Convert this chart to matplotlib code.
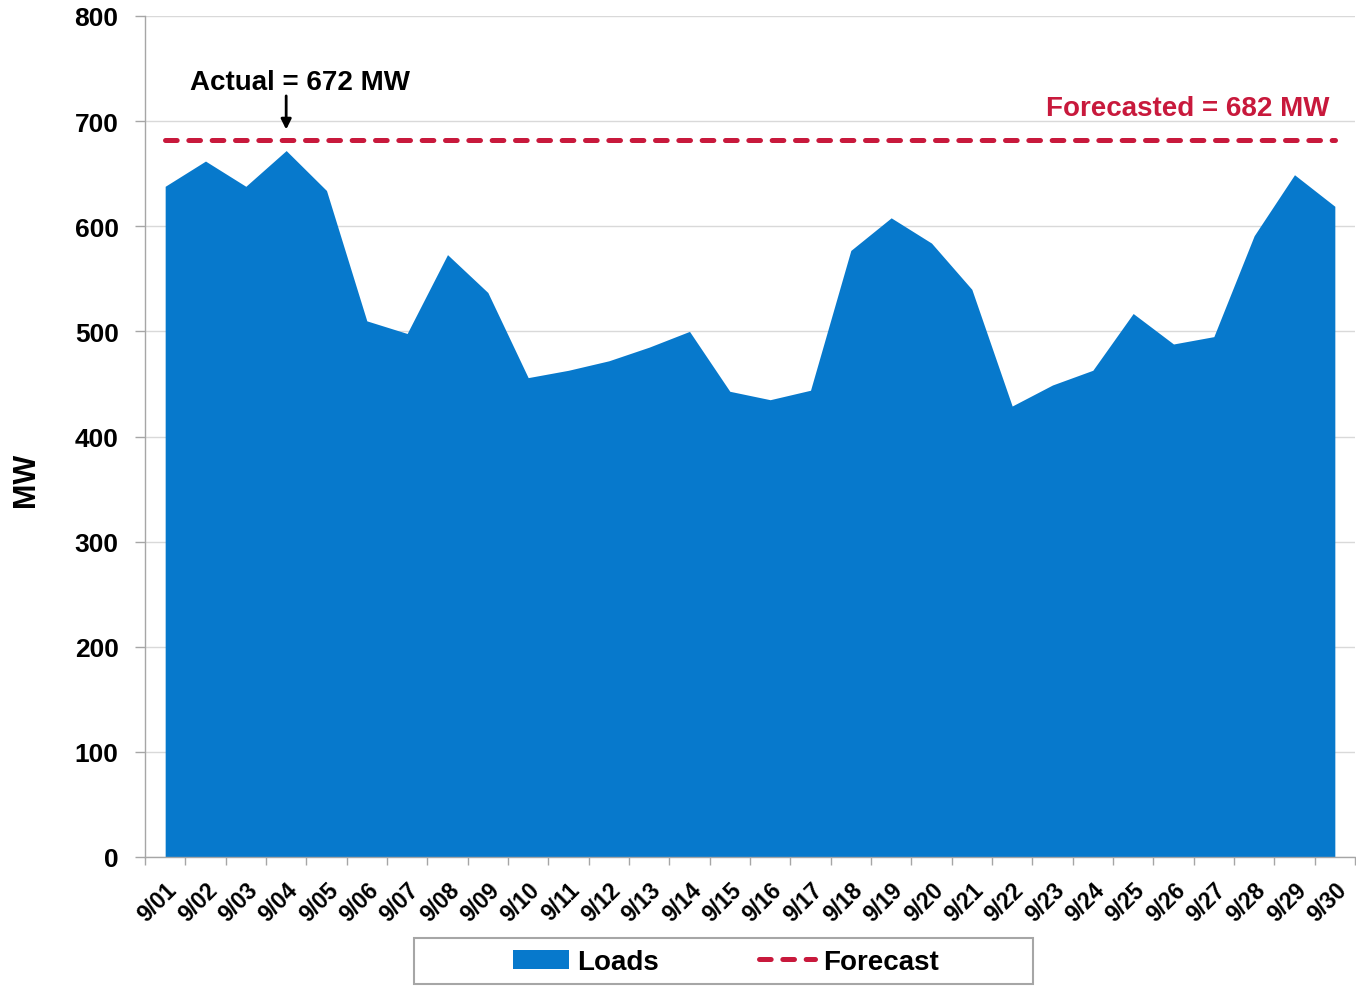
import matplotlib
matplotlib.use('Agg')
import matplotlib.pyplot as plt
from matplotlib.patches import Rectangle
import numpy as np

# ---- data ----
dates = ['9/01', '9/02', '9/03', '9/04', '9/05', '9/06', '9/07', '9/08', '9/09', '9/10',
         '9/11', '9/12', '9/13', '9/14', '9/15', '9/16', '9/17', '9/18', '9/19', '9/20',
         '9/21', '9/22', '9/23', '9/24', '9/25', '9/26', '9/27', '9/28', '9/29', '9/30']
loads = [638, 662, 638, 672, 634, 510, 498, 573, 537, 456,
         463, 472, 485, 500, 443, 435, 444, 577, 608, 584,
         540, 429, 449, 463, 517, 488, 495, 591, 649, 619]
forecast_value = 682
actual_peak = 672
y_ticks = [0, 100, 200, 300, 400, 500, 600, 700, 800]

plt.rcParams['font.family'] = ['Liberation Sans', 'DejaVu Sans']
plt.rcParams['font.weight'] = 'bold'
plt.rcParams['lines.scale_dashes'] = False

BLUE = '#0779CC'
RED = '#C8193C'
GRAY = '#A6A6A6'

W, H = 1356, 987
fig = plt.figure(figsize=(W / 100, H / 100), dpi=100)
ax = fig.add_axes([145 / W, 129 / H, 1210 / W, 841 / H])

x = np.arange(len(dates))
ax.fill_between(x, 0, loads, color=BLUE, lw=0, label='Loads', zorder=2)
fline, = ax.plot(x, [forecast_value] * len(x), color=RED, lw=3.6,
                 dash_capstyle='round', label='Forecast', zorder=3)
fline.set_dashes([8.4, 8.4])

ax.set_xlim(-0.5, len(x) - 0.5)
ax.set_ylim(0, 800)
ax.set_yticks(y_ticks)
ax.set_xticks(x)
ax.set_xticklabels(dates, rotation=45, ha='right', va='top',
                   rotation_mode='anchor', fontsize=16.5, fontweight='bold')
ax.set_xticks(np.arange(-0.5, len(x)), minor=True)
ax.tick_params(axis='x', which='major', length=0, pad=15)
ax.tick_params(axis='x', which='minor', length=6, color=GRAY, width=1)
ax.tick_params(axis='y', length=7, color=GRAY, width=1, pad=12, labelsize=19)
for lab in ax.get_yticklabels():
    lab.set_fontweight('bold')

ax.grid(axis='y', color='#D9D9D9', lw=1)
ax.set_axisbelow(True)
for s in ['top', 'right']:
    ax.spines[s].set_visible(False)
for s in ['left', 'bottom']:
    ax.spines[s].set_color(GRAY)
    ax.spines[s].set_linewidth(1)

ax.set_ylabel('MW', fontsize=22, fontweight='bold')
ax.yaxis.set_label_coords(-0.086, 0.449)

# annotations
peak_idx = int(np.argmax(loads))
ax.annotate('', xy=(peak_idx, 692), xytext=(peak_idx, 724),
            arrowprops=dict(arrowstyle='-|>', color='black', lw=2,
                            mutation_scale=15, shrinkA=0, shrinkB=0), zorder=5)
ax.text(peak_idx + 0.34, 737, f'Actual = {actual_peak} MW', ha='center', va='center',
        fontsize=20, fontweight='bold', color='black')
ax.text(28.88, 712.5, f'Forecasted = {forecast_value} MW', ha='right', va='center',
        fontsize=20, fontweight='bold', color=RED)

# legend
handles, labels = ax.get_legend_handles_labels()
fig.legend(handles, labels, loc='center', bbox_to_anchor=(726 / W, 1 - 963 / H),
           ncol=2, frameon=False, prop=dict(weight='bold', size=20),
           handlelength=2.0, handletextpad=0.3, columnspacing=3.6)
fig.add_artist(Rectangle((414 / W, 2 / H), (1033 - 414) / W, 46 / H,
                         transform=fig.transFigure, facecolor='none',
                         edgecolor=GRAY, lw=1.5))

fig.savefig('out.png', dpi=100)
